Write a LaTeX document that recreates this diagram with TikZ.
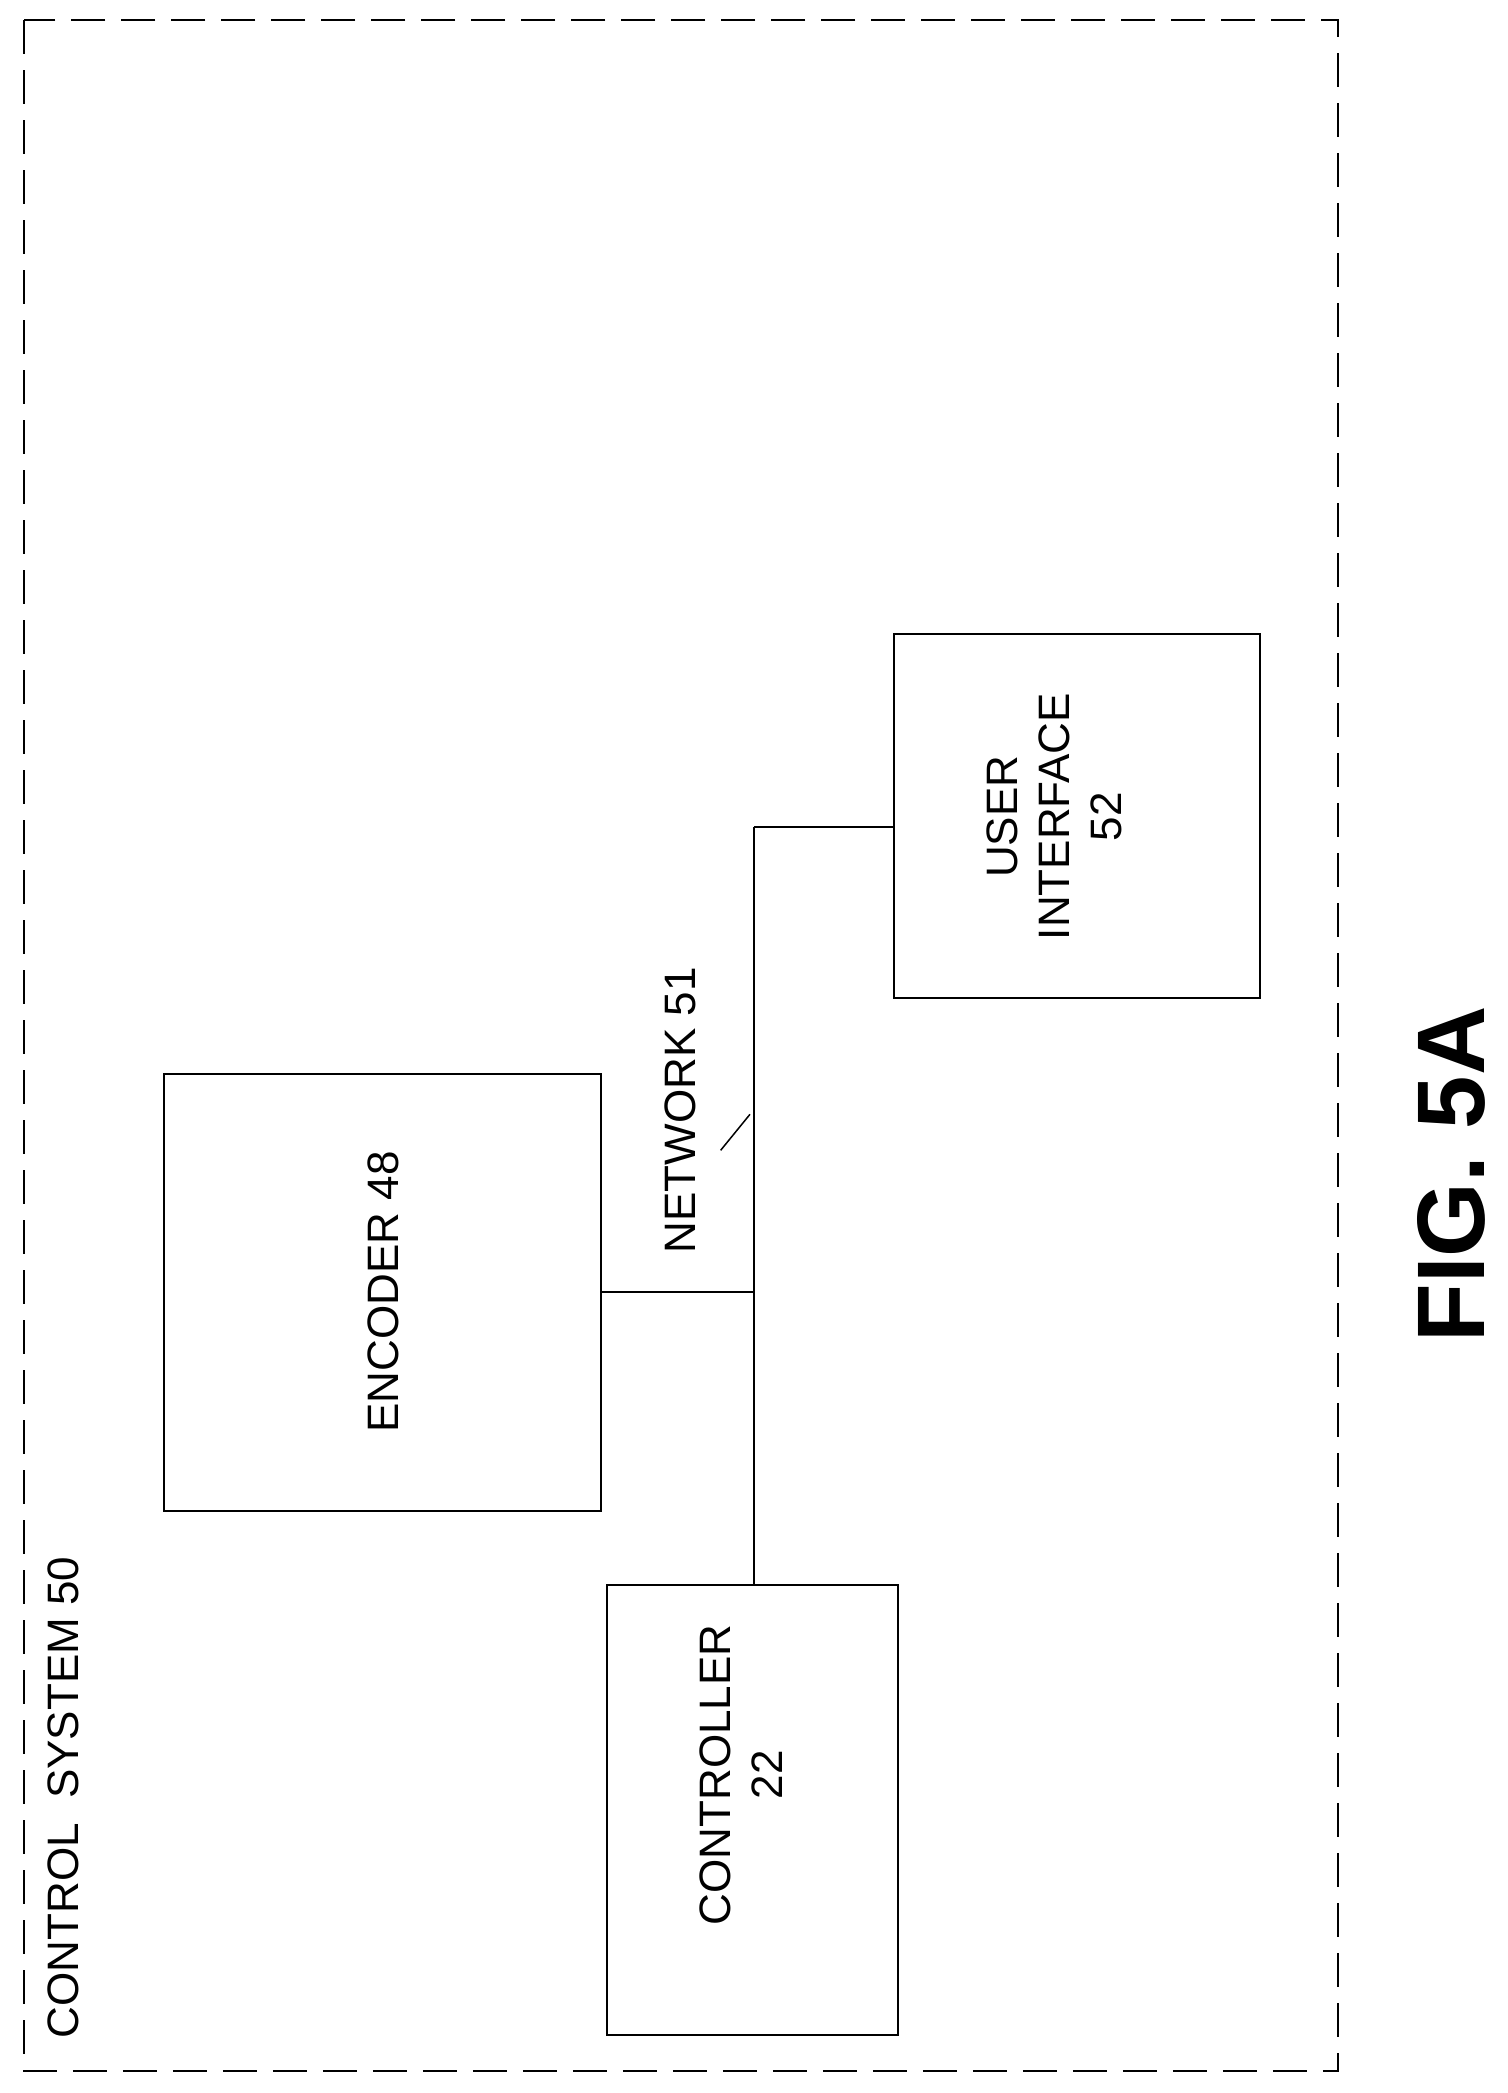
\documentclass[tikz,border=0pt]{standalone}
\usepackage{fontspec}
\setmainfont{Liberation Sans}
\tikzset{
  block/.style={draw,line width=2pt,anchor=north west},
  lbl/.style={rotate=90,font=\fontsize{44}{52}\selectfont,align=center},
  wire/.style={line width=2pt}
}
\begin{document}
\begin{tikzpicture}[x=1.3345pt,y=-1.3345pt]
\useasboundingbox[fill=white] (0,0) rectangle (1130,1568.4);
% outer frame
\draw[line width=2pt,dash pattern=on 34pt off 16pt] (18,15) rectangle (1003,1552);
\node[lbl,anchor=south west] (sys) at (62,1530) {CONTROL\ \ SYSTEM 50};
% blocks
\draw[block] (123,805) rectangle (450,1132);
\node[lbl] (enc) at (287,968) {ENCODER 48};
\draw[block] (455,1188) rectangle (673,1525);
\node[lbl] (ctl) at (555,1330) {CONTROLLER\\22};
\draw[block] (670,475) rectangle (944,748);
\node[lbl] (ui) at (790,612) {USER\\INTERFACE\\52};
% network
\coordinate (encR) at (450,968);
\coordinate (busE) at (565,968);
\coordinate (busT) at (565,620);
\coordinate (busB) at (565,1188);
\coordinate (uiL) at (670,620);
\draw[wire] (busT) -- (busB);
\draw[wire] (encR) -- (busE);
\draw[wire] (busT) -- (uiL);
\node[lbl] (net) at (510,832) {NETWORK 51};
\coordinate (leadA) at (540,862);
\coordinate (leadB) at (562,835);
\draw[line width=1.5pt] (leadA) -- (leadB);
\node[rotate=90,font=\bfseries\fontsize{96}{110}\selectfont] (fig) at (1088,880) {FIG. 5A};
\end{tikzpicture}
\end{document}
